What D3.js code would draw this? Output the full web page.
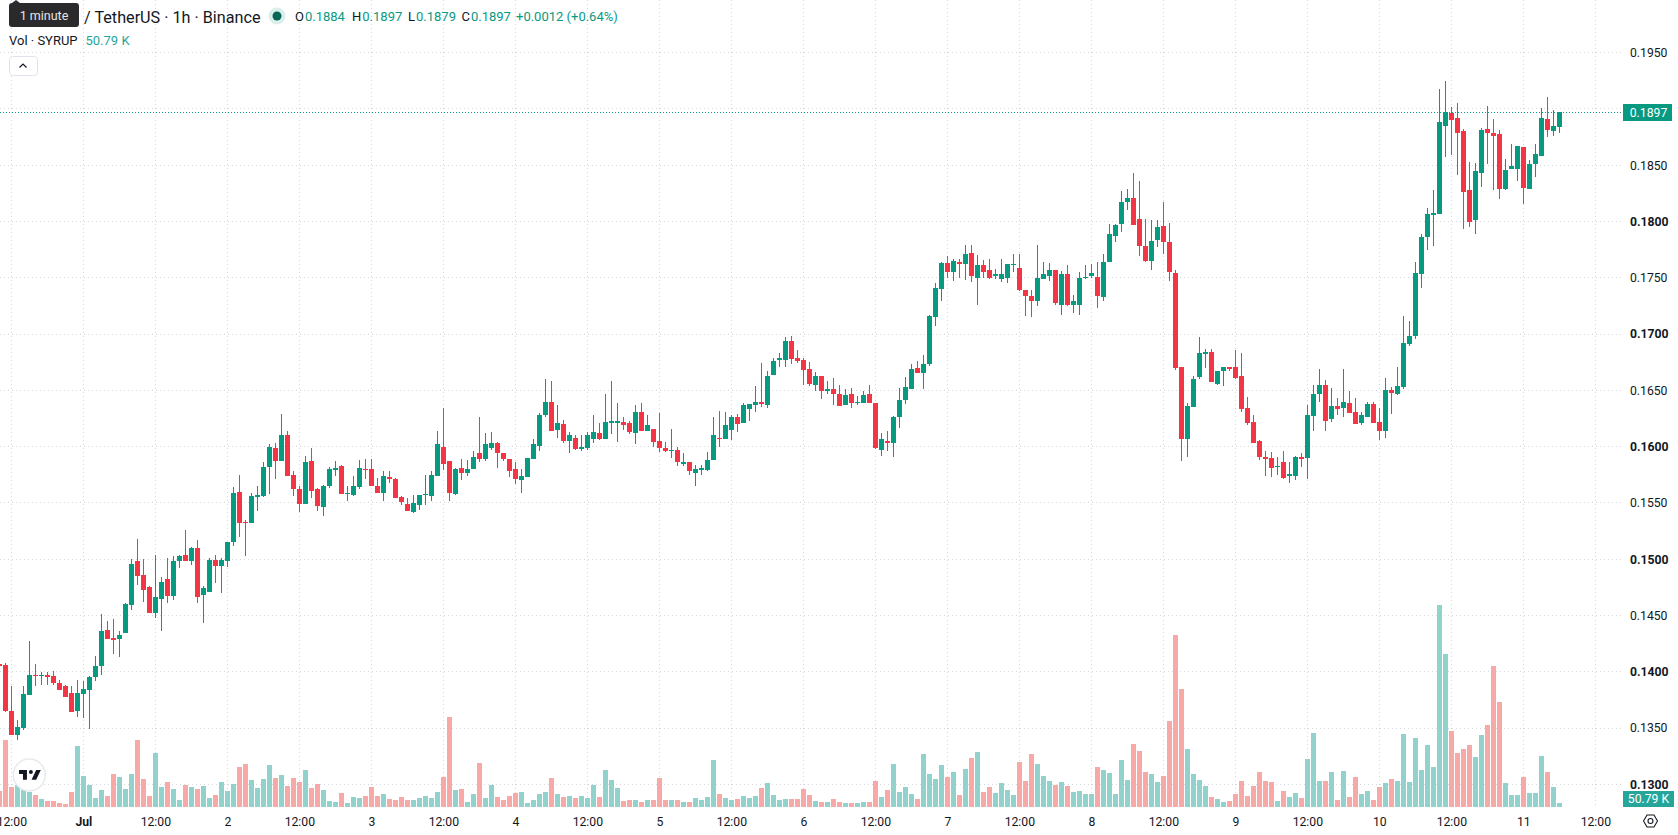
<!DOCTYPE html>
<html>
<head>
<meta charset="utf-8">
<title>SYRUP / TetherUS 1h</title>
<script src="https://cdn.jsdelivr.net/npm/d3@7/dist/d3.min.js"></script>
<style>
  html, body { margin: 0; padding: 0; background: #fff; overflow: hidden; }
  svg { display: block; font-family: Roboto, sans-serif; }
</style>
</head>
<body>
<svg id="chart" width="1678" height="835"></svg>
<script>
// Hourly OHLC in price ticks (1 tick = 0.0001 USDT), first bar 30 Jun 10:00
const tickSize = 0.0001;
const firstBar = Date.UTC(2025, 5, 30, 10);

const opens = [1407,1406,1365,1344,1350,1379,1397,1396,1397,1396,1390,1387,1381,1365,1380,1384,1395,1405,1437,1430,1429,1434,1459,1498,1486,1475,1452,1465,1482,1467,1498,1504,1498,1510,1468,1471,1499,1494,1498,1515,1560,1533,1532,1555,1556,1582,1599,1587,1610,1575,1562,
1549,1587,1562,1546,1565,1579,1583,1558,1557,1564,1580,1580,1565,1559,1573,1571,1555,1549,1542,1548,1557,1556,1574,1600,1587,1558,1581,1577,1580,1594,1589,1599,1603,1594,1589,1580,1570,1573,1589,1601,1628,1640,1615,1620,1605,1608,1598,1599,
1607,1612,1607,1621,1621,1622,1621,1612,1631,1614,1616,1605,1599,1596,1597,1585,1586,1577,1579,1579,1588,1608,1607,1615,1626,1621,1633,1637,1640,1637,1664,1677,1677,1694,1679,1677,1669,1655,1663,1649,1651,1647,1637,1647,1639,1639,1647,1639,
1597,1605,1603,1626,1641,1651,1670,1665,1673,1715,1740,1763,1755,1764,1762,1772,1750,1761,1757,1752,1749,1750,1761,1759,1739,1734,1729,1749,1752,1757,1726,1753,1726,1726,1750,1752,1751,1733,1764,1787,1798,1817,1821,1802,1778,1765,1784,1796,1782,1754,
1671,1607,1635,1662,1682,1684,1656,1667,1671,1671,1663,1634,1622,1605,1591,1590,1582,1586,1574,1574,1591,1590,1627,1647,1655,1625,1636,1634,1639,1631,1621,1626,1638,1622,1614,1650,1647,1653,1691,1698,1753,1786,1806,1807,1885,1896,1892,1880,1828,1801,1843,1882,1879,1878,1829,1847,1847,1866,1829,1851,1858,1891,1880,1884];

const highs = [1408,1408,1387,1357,1387,1427,1407,1400,1400,1401,1393,1388,1387,1393,1392,1396,1414,1451,1445,1447,1436,1461,1500,1518,1500,1476,1504,1484,1501,1503,1504,1526,1511,1517,1476,1501,1504,1501,1515,1564,1575,1535,1559,1565,1586,1602,1603,1629,1614,1578,1565,
1592,1599,1563,1566,1582,1587,1584,1565,1574,1588,1589,1589,1572,1578,1578,1572,1556,1554,1557,1557,1575,1578,1614,1634,1587,1581,1589,1588,1596,1626,1612,1613,1604,1594,1589,1586,1580,1590,1607,1630,1660,1658,1637,1624,1613,1610,1610,1613,
1628,1621,1647,1658,1639,1626,1623,1637,1639,1628,1616,1630,1604,1616,1600,1594,1586,1584,1584,1595,1626,1632,1631,1628,1629,1639,1638,1654,1674,1667,1679,1683,1697,1698,1686,1679,1675,1666,1663,1658,1661,1655,1651,1652,1645,1649,1655,1639,
1612,1614,1627,1652,1662,1673,1676,1681,1717,1745,1764,1769,1767,1767,1779,1779,1770,1766,1767,1758,1767,1762,1771,1771,1739,1739,1779,1764,1763,1757,1756,1761,1735,1755,1761,1762,1764,1771,1798,1798,1827,1829,1843,1836,1802,1801,1801,1817,1799,1757,
1671,1639,1663,1697,1687,1687,1667,1671,1671,1686,1683,1644,1628,1606,1596,1595,1591,1596,1586,1592,1594,1637,1655,1669,1659,1652,1643,1669,1649,1643,1631,1640,1640,1634,1661,1653,1671,1716,1712,1764,1789,1812,1828,1918,1925,1902,1905,1882,1853,1852,1883,1903,1891,1881,1856,1869,1867,1866,1855,1869,1901,1911,1899,1897];

const lows = [1404,1364,1344,1339,1348,1379,1387,1388,1388,1388,1384,1378,1364,1360,1359,1349,1392,1397,1429,1416,1413,1434,1455,1477,1462,1452,1448,1436,1461,1464,1492,1498,1495,1461,1443,1471,1479,1470,1493,1512,1520,1503,1532,1543,1555,1558,1571,1587,1574,1556,1542,
1549,1554,1543,1538,1563,1574,1558,1552,1556,1562,1571,1565,1559,1552,1568,1554,1548,1543,1541,1544,1548,1552,1574,1579,1552,1557,1570,1574,1580,1586,1587,1597,1581,1587,1573,1567,1559,1573,1589,1596,1626,1614,1608,1603,1594,1597,1596,1597,
1603,1606,1607,1611,1604,1615,1611,1602,1614,1614,1600,1595,1595,1590,1583,1583,1575,1565,1575,1578,1588,1600,1607,1606,1613,1621,1623,1631,1635,1634,1664,1671,1671,1673,1674,1655,1654,1649,1642,1647,1637,1636,1637,1634,1637,1639,1639,1598,
1592,1596,1591,1617,1638,1651,1665,1651,1672,1707,1729,1750,1747,1750,1748,1746,1726,1750,1749,1749,1746,1745,1755,1738,1716,1715,1725,1749,1747,1726,1717,1725,1719,1717,1749,1750,1723,1729,1764,1782,1791,1810,1797,1769,1764,1757,1777,1771,1747,1668,
1587,1591,1635,1660,1670,1657,1655,1654,1667,1660,1631,1619,1603,1588,1574,1573,1575,1571,1568,1570,1582,1571,1614,1640,1614,1622,1628,1626,1630,1620,1619,1626,1621,1606,1608,1629,1646,1651,1689,1696,1741,1775,1778,1807,1857,1859,1841,1793,1795,1789,1831,1851,1828,1820,1828,1847,1836,1816,1829,1840,1858,1875,1876,1879];

const closes = [1405,1365,1344,1351,1380,1397,1396,1397,1395,1390,1384,1378,1364,1381,1385,1395,1405,1436,1429,1428,1433,1460,1496,1485,1473,1452,1466,1480,1467,1498,1503,1498,1510,1466,1474,1499,1494,1499,1515,1559,1532,1532,1556,1557,1582,1600,1587,1610,1574,1562,1549,
1586,1561,1547,1565,1580,1581,1558,1559,1565,1581,1579,1565,1559,1574,1571,1554,1551,1543,1550,1557,1558,1575,1602,1585,1559,1580,1577,1580,1591,1589,1602,1603,1594,1589,1578,1571,1574,1590,1602,1628,1640,1614,1621,1605,1610,1598,1600,1610,
1613,1607,1622,1623,1623,1619,1613,1631,1614,1619,1604,1599,1596,1597,1586,1586,1578,1580,1581,1588,1610,1607,1619,1626,1620,1637,1638,1640,1638,1663,1676,1679,1694,1678,1676,1668,1656,1663,1649,1651,1647,1636,1646,1639,1640,1646,1639,1599,
1607,1603,1626,1641,1653,1669,1665,1673,1716,1741,1763,1755,1765,1762,1771,1752,1761,1755,1750,1753,1753,1762,1762,1739,1734,1729,1750,1753,1757,1728,1753,1726,1729,1750,1751,1754,1734,1764,1789,1797,1817,1821,1797,1778,1765,1783,1795,1782,1755,1670,
1607,1636,1660,1683,1684,1657,1667,1671,1669,1661,1633,1621,1603,1591,1589,1581,1583,1572,1576,1591,1589,1628,1647,1655,1623,1636,1633,1640,1630,1620,1628,1638,1621,1614,1650,1648,1654,1692,1698,1754,1786,1807,1808,1888,1897,1890,1879,1826,1800,1845,1881,1879,1876,1829,1846,1849,1867,1830,1851,1860,1892,1881,1885,1897];

// Hourly volume in thousands of SYRUP
const volumes = [203,851,254,279,216,191,152,102,76,76,51,38,191,775,394,279,114,216,140,419,381,229,419,851,356,140,686,254,318,229,89,279,254,229,267,114,152,318,203,292,508,546,343,241,356,533,368,406,267,368,318,470,241,292,216,76,64,178,51,127,114,140,254,140,165,102,89,127,89,89,
114,140,114,191,381,1143,216,229,64,165,559,114,279,127,89,140,178,191,51,89,165,191,368,165,127,140,114,140,114,
279,127,470,343,241,76,89,89,64,89,89,368,89,89,89,64,64,114,89,127,597,165,114,89,102,140,114,140,241,305,152,89,102,102,102,229,152,76,64,64,102,64,
51,51,51,64,64,330,127,216,546,191,254,165,102,673,419,356,533,381,445,152,483,622,699,191,254,178,305,216,152,572,330,673,546,394,330,279,318,267,191,203,165,165,508,470,432,165,597,343,800,711,445,419,318,394,1092,2184,1498,737,419,343,267,127,102,64,76,165,330,140,267,445,
330,318,76,203,127,178,114,610,940,330,330,445,89,457,127,381,165,203,89,254,305,356,330,927,318,876,470,787,508,2565,1943,965,686,737,787,635,914,1041,1790,1333,305,152,152,381,178,178,648,445,254,50.79];

const priceTicks = [0.13,0.135,0.14,0.145,0.15,0.155,0.16,0.165,0.17,0.175,0.18,0.185,0.19,0.195];
const boldPrices = [0.13,0.14,0.15,0.16,0.17,0.18];
const hiddenPriceLabels = [0.19];
const legendItems = [["O","0.1884",295],["H","0.1897",352],["L","0.1879",408],["C","0.1897",461.5]];
const legendChange = "+0.0012 (+0.64%)";
const symbolTitle = "/ TetherUS · 1h · Binance";
const volumeTitle = "Vol · SYRUP";
const volumeLabel = "50.79 K";
const lastPriceLabel = "0.1897";

const GREEN = "#089981", RED = "#f23645";
const VOL_GREEN = "#92d2cc", VOL_RED = "#f7a9a7";
const GRID = "#d6d8de", INK = "#131722";

const paneRight = 1621, volumeBase = 807;

const hour = 3600e3;
const bars = opens.map((o, i) => ({
  t: new Date(firstBar + i * hour),
  o: o * tickSize, h: highs[i] * tickSize, l: lows[i] * tickSize, c: closes[i] * tickSize,
  v: volumes[i]
}));

const x = d3.scaleUtc()
  .domain([new Date(Date.UTC(2025, 5, 30, 12)), new Date(Date.UTC(2025, 6, 11, 12))])
  .range([11.33, 1595.33]);
const y = d3.scaleLinear().domain([0.13, 0.195]).range([784.3, 52.7]);
const yVol = d3.scaleLinear().domain([0, 2565]).range([volumeBase, 605]);

const timeTicks = d3.utcHour.range(new Date(Date.UTC(2025, 5, 30, 12)), new Date(Date.UTC(2025, 6, 11, 13)), 12);
const snap = v => Math.floor(v);

const svg = d3.select("#chart");
svg.append("rect").attr("width", 1678).attr("height", 835).attr("fill", "#fff");

// Dotted grid
const grid = svg.append("g").attr("stroke", GRID).attr("stroke-width", 1).attr("stroke-dasharray", "1 3").attr("shape-rendering", "crispEdges");
grid.selectAll(".gy").data(priceTicks).join("line").attr("class", "gy")
  .attr("x1", 0).attr("x2", paneRight)
  .attr("y1", d => snap(y(d)) + 0.5).attr("y2", d => snap(y(d)) + 0.5);
grid.selectAll(".gx").data(timeTicks).join("line").attr("class", "gx")
  .attr("y1", 0).attr("y2", volumeBase)
  .attr("x1", d => snap(x(d)) + 0.5).attr("x2", d => snap(x(d)) + 0.5);

// Volume histogram
svg.append("g").attr("shape-rendering", "crispEdges").selectAll("rect").data(bars).join("rect")
  .attr("x", d => snap(x(d.t)) - 2).attr("width", 5)
  .attr("y", d => Math.round(yVol(d.v))).attr("height", d => volumeBase - Math.round(yVol(d.v)))
  .attr("fill", d => d.c >= d.o ? VOL_GREEN : VOL_RED);

// Last price line
svg.append("line")
  .attr("x1", 0).attr("x2", paneRight)
  .attr("y1", snap(y(closes[closes.length - 1] * tickSize)) + 0.5)
  .attr("y2", snap(y(closes[closes.length - 1] * tickSize)) + 0.5)
  .attr("stroke", GREEN).attr("stroke-dasharray", "1 2").attr("shape-rendering", "crispEdges");

// Candles
const candles = svg.append("g").attr("shape-rendering", "crispEdges").selectAll("g").data(bars).join("g")
  .attr("fill", d => d.c >= d.o ? GREEN : RED);
candles.append("rect")
  .attr("x", d => snap(x(d.t))).attr("width", 1)
  .attr("y", d => Math.round(y(d.h))).attr("height", d => Math.max(1, Math.round(y(d.l)) - Math.round(y(d.h))));
candles.append("rect")
  .attr("x", d => snap(x(d.t)) - 2).attr("width", 5)
  .attr("y", d => Math.round(y(Math.max(d.o, d.c))))
  .attr("height", d => Math.max(1, Math.round(y(Math.min(d.o, d.c))) - Math.round(y(Math.max(d.o, d.c)))));

// Price axis
const priceAxis = d3.axisRight(y)
  .tickValues(priceTicks.filter(p => !hiddenPriceLabels.includes(p)))
  .tickFormat(d3.format(".4f")).tickSize(0).tickPadding(0);
const gy = svg.append("g").attr("transform", "translate(1630,0)").call(priceAxis);
gy.select(".domain").remove();
gy.selectAll("text").attr("fill", INK).attr("font-size", 12.2).attr("font-family", "Roboto, sans-serif")
  .attr("font-weight", d => boldPrices.includes(d) ? 700 : 400);

// Time axis
const timeFormat = d => {
  if (d.getUTCHours() === 12) return "12:00";
  return d.getUTCDate() === 1 ? "Jul" : String(d.getUTCDate());
};
const timeAxis = d3.axisBottom(x).tickValues(timeTicks).tickFormat(timeFormat).tickSize(0).tickPadding(0);
const gx = svg.append("g").attr("transform", "translate(0,817)").call(timeAxis);
gx.select(".domain").remove();
gx.selectAll("text").attr("fill", INK).attr("font-size", 12.2).attr("font-family", "Roboto, sans-serif")
  .attr("font-weight", d => d.getUTCDate() === 1 && d.getUTCHours() === 0 ? 700 : 400);

// Price scale tags
const tag = (yTop, h, width, fill, label) => {
  svg.append("rect").attr("x", 1623).attr("y", yTop).attr("width", width).attr("height", h).attr("fill", fill);
  svg.append("text").attr("x", 1648.5).attr("y", yTop + h / 2).attr("dy", "0.35em").attr("text-anchor", "middle")
    .attr("fill", "#fff").attr("font-size", 12.2).text(label);
};
tag(104, 17, 49, GREEN, lastPriceLabel);
tag(791, 16, 51, "#26a69a", volumeLabel);

// Legend
svg.append("text").attr("x", 84).attr("y", 17).attr("dy", "0.35em").attr("font-size", 16.2).attr("fill", INK).text(symbolTitle);
svg.append("circle").attr("cx", 277).attr("cy", 16).attr("r", 8.5).attr("fill", "#d9efeb");
svg.append("circle").attr("cx", 277).attr("cy", 16).attr("r", 4.5).attr("fill", "#056656");
legendItems.forEach(([k, v, px]) => {
  const t = svg.append("text").attr("x", px).attr("y", 16.5).attr("dy", "0.35em").attr("font-size", 13);
  t.append("tspan").attr("fill", INK).text(k);
  t.append("tspan").attr("fill", GREEN).attr("dx", 1).text(v);
});
svg.append("text").attr("x", 516).attr("y", 16.5).attr("dy", "0.35em").attr("font-size", 13).attr("fill", GREEN).text(legendChange);
svg.append("text").attr("x", 9).attr("y", 40.5).attr("dy", "0.35em").attr("font-size", 13).attr("fill", INK).text(volumeTitle);
svg.append("text").attr("x", 85.5).attr("y", 40.5).attr("dy", "0.35em").attr("font-size", 13).attr("fill", "#26a69a").text("50.79 K");

// Collapse button
svg.append("rect").attr("x", 9.5).attr("y", 56.5).attr("width", 28).attr("height", 19).attr("rx", 3)
  .attr("fill", "#fff").attr("stroke", "#e0e3eb");
svg.append("path").attr("d", "M19.5 67.5l3.5-3.5 3.5 3.5").attr("fill", "none").attr("stroke", INK).attr("stroke-width", 1.2);

// Interval tooltip
svg.append("path").attr("d", "M12 3l4-3 4 3z").attr("fill", "#2a2e39");
svg.append("rect").attr("x", 9).attr("y", 3).attr("width", 70).attr("height", 24).attr("rx", 3).attr("fill", "#2a2a2c");
svg.append("text").attr("x", 44).attr("y", 15.5).attr("dy", "0.35em").attr("text-anchor", "middle")
  .attr("font-size", 12.5).attr("fill", "#e6e6e6").text("1 minute");

// Brand badge
svg.append("circle").attr("cx", 29.3).attr("cy", 775).attr("r", 16).attr("fill", "#fff").attr("stroke", "#e8e9ed").attr("stroke-width", 1.5);
svg.append("path")
  .attr("transform", "translate(17.7,766) scale(0.66)")
  .attr("d", "M14 6H2v6h6v9h6V6zm14 15h-7l7-15h7l-7 15zm-8-9a3 3 0 1 0 0-6 3 3 0 0 0 0 6z")
  .attr("fill", "#131722");

// Scale settings icon
svg.append("path").attr("d", "M1643.5 821l3.5-6h7l3.5 6-3.5 6h-7z").attr("fill", "none").attr("stroke", INK).attr("stroke-width", 1.1);
svg.append("circle").attr("cx", 1650.5).attr("cy", 821).attr("r", 2.5).attr("fill", "none").attr("stroke", INK).attr("stroke-width", 1.1);
</script>
</body>
</html>
